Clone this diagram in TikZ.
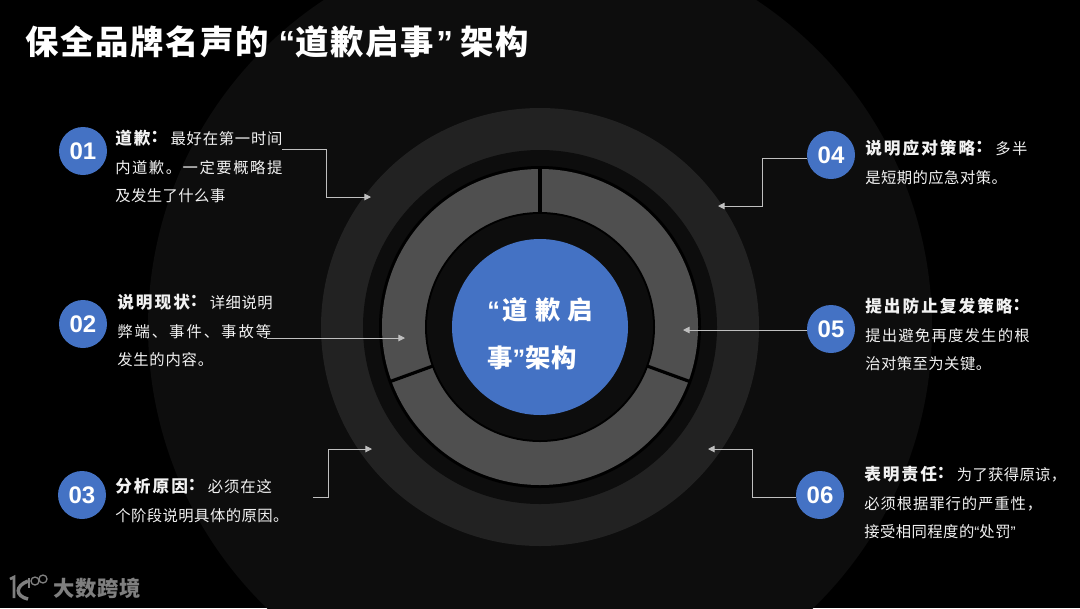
\documentclass[tikz,border=0pt]{standalone}
\definecolor{DeckBlack}{HTML}{000000}
\definecolor{DeckDark}{HTML}{0D0D0D}
\definecolor{DeckRing}{HTML}{222222}
\definecolor{DeckGrey}{HTML}{4F4F4F}
\definecolor{DeckBlue}{HTML}{4472C4}
\definecolor{DeckWhite}{HTML}{FFFFFF}
\definecolor{DeckText}{HTML}{F2F2F2}
\definecolor{DeckLine}{HTML}{BFBFBF}
\definecolor{DeckLogo}{HTML}{7F7F7F}
\usepackage{fontspec}
\setmainfont{Noto Sans CJK SC}
\newfontfamily\numfont{Liberation Sans}
\usepackage{tikz}
\usetikzlibrary{arrows.meta,positioning,calc}
\newcommand{\spc}[1]{\addfontfeature{LetterSpace=#1}}
\newcommand{\hdcolon}{\smash{\raisebox{.14em}{\char"FF1A\relax}}\hspace{.2em}}
\newcommand{\wdcomma}{\char"FF0C\relax}
\newcommand{\lead}[1]{{\fontsize{12.5}{21.5}\selectfont\bfseries\spc{12}#1\hdcolon}}
\tikzset{
    % Numbered badge
    numnode/.style={
        circle,
        fill=DeckBlue,
        text=DeckWhite,
        minimum size=36pt,
        inner sep=0pt,
        font=\numfont\fontsize{18}{18}\selectfont\bfseries
    },
    % Text block beside a badge
    textnode/.style={
        anchor=west,
        inner sep=0pt,
        align=left,
        text=DeckText,
        font=\fontsize{11.5}{21.5}\selectfont
    },
    % Centre disc
    discnode/.style={
        circle,
        fill=DeckBlue,
        minimum size=132pt,
        inner sep=0pt
    },
    % Centre label
    corenode/.style={
        anchor=west,
        inner sep=0pt,
        align=left,
        text=DeckWhite,
        font=\fontsize{19}{36}\selectfont\bfseries
    },
    % Elbow arrows
    linkarrow/.style={
        -{Triangle[length=5pt,width=5pt]},
        line width=0.7pt,
        draw=DeckLine
    },
    % Ring separators
    sepline/.style={
        line width=2.4pt,
        draw=DeckBlack
    }
}
\begin{document}
\begin{tikzpicture}[x=0.75pt,y=-0.75pt]
    \useasboundingbox (0,0) rectangle (1080,608);
    \clip (0,0) rectangle (1080,608);
    \fill[DeckBlack] (0,0) rectangle (1080,608);

    % Rings
    \coordinate (mid) at (540,327);
    \fill[DeckDark] (mid) circle (392);
    \fill[DeckRing] (mid) circle (219);
    \fill[DeckDark] (mid) circle (177);
    \fill[DeckBlack] (mid) circle (161);
    \fill[DeckGrey] (mid) circle (158);
    \fill[DeckBlack] (mid) circle (115);
    \fill[DeckDark] (mid) circle (113);
    \foreach \ang in {-90,20,160}
        \draw[sepline] ($(mid)+(\ang:114)$) -- ($(mid)+(\ang:159)$);

    % Centre
    \node[discnode] (core) at (mid) {};
    \node[corenode] (corelabel) at (487,334) {{\numfont “}\hspace{.12em}{\spc{28}道歉启}\\{\spc{5}事{\numfont ”}架构}};

    % Title
    \node[anchor=west,inner sep=0pt,text=DeckWhite,font=\fontsize{25}{25}\selectfont\bfseries] (title) at (25,42) {\spc{5}保全品牌名声的\hspace{.3em}{\numfont “}道歉启事\hspace{.08em}{\numfont ”}\hspace{.22em}架构};

    % Left column
    \node[numnode] (n1) at (83,151) {01};
    \node[numnode] (n2) at (83,324) {02};
    \node[numnode] (n3) at (82,495) {03};
    \node[textnode,text width=140pt] (t1) at (115,166.5) {{\spc{5}\lead{道歉}最好在第一时间}\\{\spc{10}内道歉。一定要概略提}\\{\spc{3}及发生了什么事}};
    \node[textnode,text width=140pt] (t2) at (117,330.5) {{\spc{3}\lead{说明现状}详细说明}\\{\spc{13}弊端、事件、事故等}\\{\spc{5}发生的内容。}};
    \node[textnode,text width=148pt] (t3) at (115,500.5) {{\spc{6}\lead{分析原因}必须在这}\\{\spc{3}个阶段说明具体的原因。}};

    % Right column
    \node[numnode] (n4) at (831,155) {04};
    \node[numnode] (n5) at (831,329) {05};
    \node[numnode] (n6) at (820,495) {06};
    \node[textnode,text width=140pt] (t4) at (865,162.5) {{\spc{10}\lead{说明应对策略}多半}\\{\spc{3}是短期的应急对策。}};
    \node[textnode,text width=140pt] (t5) at (865,334.5) {{\lead{提出防止复发策略}}\\{\spc{8}提出避免再度发生的根}\\{\spc{3}治对策至为关键。}};
    \node[textnode,text width=160pt] (t6) at (864,502.5) {{\spc{2}\lead{表明责任}为了获得原谅\wdcomma}\\{\spc{6}必须根据罪行的严重性\wdcomma}\\{\spc{3}接受相同程度的{\numfont “}处罚{\numfont ”}}};

    % Arrow ends
    \coordinate (a1) at (371,197);
    \coordinate (a2) at (405,338);
    \coordinate (a3) at (372,449);
    \coordinate (a4) at (718,206);
    \coordinate (a5) at (683,330);
    \coordinate (a6) at (708,449);
    \coordinate (s1) at (282,149);
    \coordinate (s2) at (267,338);
    \coordinate (s3) at (313,497);

    % Arrows
    \draw[linkarrow] (s1) -- (326,149) |- (a1);
    \draw[linkarrow] (s2) -- (a2);
    \draw[linkarrow] (s3) -- (328,497) |- (a3);
    \draw[linkarrow] (n4.west |- 0,158) -- (762,158) |- (a4);
    \draw[linkarrow] (n5.west |- a5) -- (a5);
    \draw[linkarrow] (n6.west |- 0,497) -- (752,497) |- (a6);

    % Logo
    \node[anchor=west,inner sep=0pt,text=DeckLogo,font=\fontsize{16}{16}\selectfont\bfseries] (brand) at (53,588) {\spc{4}大数跨境};
    \draw[DeckLogo,line width=2pt] (10,579) -- (14,577) -- (14,598);
    \draw[DeckLogo,line width=2.6pt] (28,581) .. controls (15,586) and (15,596) .. (28,599);
    \draw[DeckLogo,line width=1pt] (29,578) -- (29,588);
    \draw[DeckLogo,line width=1pt] (35,581) circle (4);
    \draw[DeckLogo,line width=1pt] (43,579) circle (4);
\end{tikzpicture}
\end{document}
